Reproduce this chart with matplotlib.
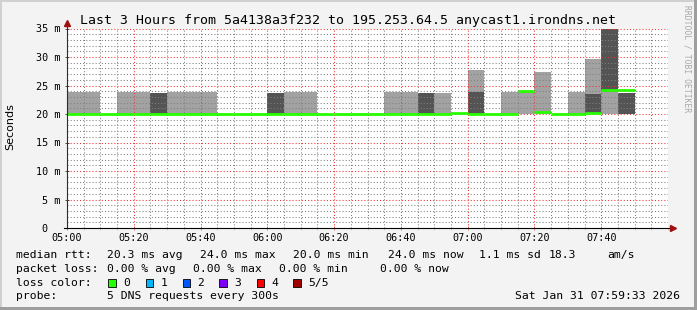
import numpy as np
import matplotlib
matplotlib.use("Agg")
import matplotlib.pyplot as plt
from matplotlib.patches import Rectangle
from matplotlib.lines import Line2D

plt.rcParams['font.family'] = 'DejaVu Sans Mono'

# ---- data (5 minute slots starting at 05:00, minutes since 05:00) ----
slot_min = np.arange(0, 170, 5)
nan = np.nan
median_ms = [20.0, 20.0, 20.0, 20.0, 20.0, 20.0, 20.0, 20.0, 20.0, 20.0, 20.0, 20.0,
             20.0, 20.0, 20.0, 20.0, 20.0, 20.0, 20.0, 20.0, 20.0, 20.0, 20.0, 20.1,
             20.0, 20.0, 20.0, 24.0, 20.3, 20.0, 20.0, 20.1, 24.2, 24.2]
light_lo = [20.0, 20.0, nan, 20.0, 20.0, nan, 20.0, 20.0, 20.0, nan, nan, nan,
            nan, 20.0, 20.0, nan, nan, nan, nan, 20.0, 20.0, nan, 20.0, nan,
            23.9, nan, 20.0, 20.0, 20.0, nan, 20.0, 23.5, 20.0, nan]
light_hi = [23.9, 23.8, nan, 23.9, 23.9, nan, 23.9, 23.9, 23.9, nan, nan, nan,
            nan, 23.9, 23.8, nan, nan, nan, nan, 23.9, 23.9, nan, 23.7, nan,
            27.7, nan, 23.9, 24.0, 27.4, nan, 23.9, 29.6, 24.2, nan]
dark_lo = [nan, nan, nan, nan, nan, 20.0, nan, nan, nan, nan, nan, nan,
           20.0, nan, nan, nan, nan, nan, nan, nan, nan, 20.0, nan, nan,
           20.0, nan, nan, nan, nan, nan, nan, 20.0, 24.2, 20.0]
dark_hi = [nan, nan, nan, nan, nan, 23.7, nan, nan, nan, nan, nan, nan,
           23.6, nan, nan, nan, nan, nan, nan, nan, nan, 23.7, nan, nan,
           23.9, nan, nan, nan, nan, nan, nan, 23.5, 36.0, 23.6]

x_tick_pos = [0, 20, 40, 60, 80, 100, 120, 140, 160]
x_tick_labels = ['05:00', '05:20', '05:40', '06:00', '06:20', '06:40', '07:00', '07:20', '07:40']
y_tick_pos = [0, 5, 10, 15, 20, 25, 30, 35]
y_tick_labels = ['0  ', '5 m', '10 m', '15 m', '20 m', '25 m', '30 m', '35 m']

loss_labels = ['0', '1', '2', '3', '4', '5/5']
loss_colors = ['#26ff00', '#00b8ff', '#0059ff', '#7e00ff', '#ff0000', '#a10000']

title = 'Last 3 Hours from 5a4138a3f232 to 195.253.64.5 anycast1.irondns.net'

W, H = 697, 310


def fx(x):
    return x / W


def fy(y):
    return 1 - y / H


fig = plt.figure(figsize=(W / 100, H / 100), dpi=100, facecolor='#f3f3f3')
ax = fig.add_axes([fx(67), fy(228), 601 / W, 199.5 / H])
ax.set_facecolor('white')

# smoke
lo = np.array(light_lo); hi = np.array(light_hi)
m = ~np.isnan(lo)
ax.bar(slot_min[m], hi[m] - lo[m], bottom=lo[m], width=5, align='edge',
       color='#a2a2a2', linewidth=0, zorder=1)
lo = np.array(dark_lo); hi = np.array(dark_hi)
m = ~np.isnan(lo)
ax.bar(slot_min[m], hi[m] - lo[m], bottom=lo[m], width=5, align='edge',
       color='#545454', linewidth=0, zorder=1)

# median line
ax.hlines(median_ms, slot_min, slot_min + 5, colors=loss_colors[0], linewidth=2.0, zorder=3)

ax.set_xlim(0, 180)
ax.set_ylim(0, 35)
ax.set_xticks(x_tick_pos)
ax.set_xticklabels(x_tick_labels)
ax.set_xticks(np.arange(0, 181, 5), minor=True)
ax.set_yticks(y_tick_pos)
ax.set_yticklabels(y_tick_labels)
ax.set_yticks(np.arange(0, 36, 1), minor=True)

for s in ax.spines.values():
    s.set_visible(False)

ax.set_axisbelow(False)
ax.grid(which='minor', color=(0.5, 0.5, 0.5, 0.22), linestyle=(0, (1, 2)), linewidth=0.75)
ax.grid(which='major', color=(0.95, 0.2, 0.2, 0.4), linestyle=(0, (1, 2)), linewidth=0.75)

ax.tick_params(axis='y', which='major', direction='inout', length=3, width=0.6,
               color='#333333', pad=3.5, labelsize=7.3)
ax.tick_params(axis='y', which='minor', length=0)
ax.tick_params(axis='x', which='major', direction='inout', length=3, width=0.6,
               color='#d06060', pad=2.3, labelsize=7.3)
ax.tick_params(axis='x', which='minor', direction='out', length=1.5, width=0.6,
               color='#c8c8c8')

# axis lines with arrows
ax.add_line(Line2D([0, 0], [0, 1.03], transform=ax.transAxes, color='#4a2020',
                   linewidth=0.8, clip_on=False, zorder=4))
ax.add_line(Line2D([-0.005, 1.007], [0, 0], transform=ax.transAxes, color='black',
                   linewidth=0.8, clip_on=False, zorder=4))
ax.plot([0], [1.03], marker='^', markersize=4, color='#a01010', transform=ax.transAxes,
        clip_on=False, zorder=5)
ax.plot([1.008], [0], marker='>', markersize=4, color='#a01010', transform=ax.transAxes,
        clip_on=False, zorder=5)

# titles
fig.text(0.5, fy(24), title, ha='center', va='baseline', fontsize=9.5, color='black')
fig.text(fx(10), fy(127), 'Seconds', rotation=90, ha='center', va='center',
         fontsize=8, family='DejaVu Sans')
fig.text(fx(687), fy(59), 'RRDTOOL / TOBI OETIKER', rotation=270, ha='center',
         va='center', fontsize=5.8, color='#a8a8a8')

# legend / stats
fs = 8.2
rows = [
    (258.3, [(16, 'median rtt:'), (107, '20.3 ms avg'), (200, '24.0 ms max'),
             (293, '20.0 ms min'), (388, '24.0 ms now'), (479, '1.1 ms sd'),
             (549, '18.3'), (607, 'am/s')]),
    (272.0, [(16, 'packet loss:'), (107, '0.00 % avg'), (193, '0.00 % max'),
             (279, '0.00 % min'), (380, '0.00 % now')]),
    (285.7, [(16, 'loss color:')]),
    (299.4, [(16, 'probe:'), (107, '5 DNS requests every 300s')]),
]
for yb, items in rows:
    for xp, txt in items:
        fig.text(fx(xp), fy(yb), txt, ha='left', va='baseline', fontsize=fs)

box_x = [108, 145.5, 182.5, 219, 256.5, 293]
lab_x = [123, 160.5, 197, 234, 271, 308]
for bx, lx, lab, col in zip(box_x, lab_x, loss_labels, loss_colors):
    fig.patches.append(Rectangle((fx(bx), fy(286.5)), 7.5 / W, 8 / H,
                                 transform=fig.transFigure, facecolor=col,
                                 edgecolor='black', linewidth=0.6))
    fig.text(fx(lx), fy(285.7), lab, ha='left', va='baseline', fontsize=fs)

fig.text(fx(680), fy(299.4), 'Sat Jan 31 07:59:33 2026', ha='right', va='baseline', fontsize=fs)

# 3d frame
fig.patches.append(Rectangle((0, fy(2)), 1, 2 / H, transform=fig.transFigure,
                             facecolor='#d0d0d0', linewidth=0))
fig.patches.append(Rectangle((0, 0), 2 / W, 1, transform=fig.transFigure,
                             facecolor='#d0d0d0', linewidth=0))
fig.patches.append(Rectangle((0, 0), 1, 3 / H, transform=fig.transFigure,
                             facecolor='#9e9e9e', linewidth=0))
fig.patches.append(Rectangle((fx(694), 0), 3 / W, 1, transform=fig.transFigure,
                             facecolor='#9e9e9e', linewidth=0))

fig.savefig('out.png', dpi=100, facecolor=fig.get_facecolor())
